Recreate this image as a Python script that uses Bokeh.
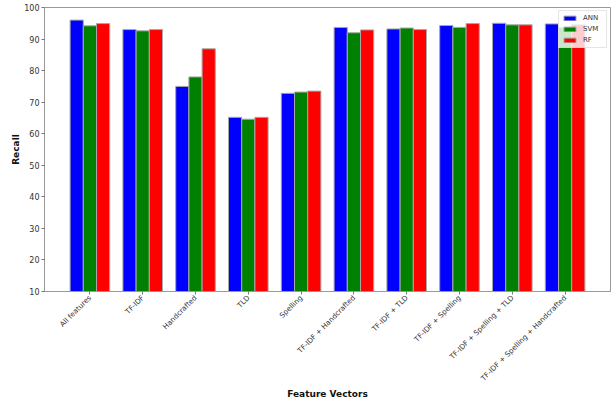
import numpy as np
from bokeh.plotting import figure
from bokeh.models import ColumnDataSource, FixedTicker, Range1d, Legend, LegendItem
from bokeh.transform import dodge
from bokeh.embed import file_html
from bokeh.resources import INLINE

categories = ["All features", "TF-IDF", "Handcrafted", "TLD", "Spelling",
              "TF-IDF + Handcrafted", "TF-IDF + TLD", "TF-IDF + Spelling",
              "TF-IDF + Spelling + TLD", "TF-IDF + Spelling + Handcrafted"]
ann = [96.0, 93.0, 75.0, 65.2, 72.8, 93.7, 93.2, 94.3, 95.0, 94.8]
svm = [94.2, 92.6, 78.0, 64.6, 73.2, 92.0, 93.5, 93.7, 94.5, 93.7]
rf = [94.9, 93.0, 86.9, 65.2, 73.5, 92.9, 93.0, 94.9, 94.5, 94.5]
series = ["ANN", "SVM", "RF"]
colors = ["blue", "green", "red"]
y_ticks = [10, 20, 30, 40, 50, 60, 70, 80, 90, 100]

FONT = "DejaVu Sans"
pos = list(range(len(categories)))
src = ColumnDataSource(dict(x=pos, ANN=ann, SVM=svm, RF=rf))

p = figure(width=611, height=401, output_backend="svg", toolbar_location=None,
           x_range=Range1d(-0.86, 9.86), y_range=Range1d(10, 100),
           min_border_left=44, min_border_right=1, min_border_top=7,
           min_border_bottom=108)

items = []
offsets = [-0.25, 0.0, 0.25]
for name, col, off in zip(series, colors, offsets):
    r = p.vbar(x=dodge("x", off), top=name, bottom=0, width=0.25, source=src,
               fill_color=col, line_color="#a8a8a8", line_width=1)
    items.append(LegendItem(label=name, renderers=[r]))

legend = Legend(items=items, location="top_right")
legend.label_text_font = FONT
legend.label_text_font_size = "7px"
legend.label_text_color = "#333333"
legend.glyph_width = 15
legend.glyph_height = 6
legend.label_height = 8
legend.spacing = 3
legend.padding = 3
legend.margin = 3
legend.label_standoff = 6
legend.border_line_color = "#cccccc"
legend.background_fill_alpha = 0.8
p.add_layout(legend)

p.xgrid.visible = False
p.ygrid.visible = False
p.outline_line_color = "#999999"
p.outline_line_width = 1

p.xaxis.ticker = FixedTicker(ticks=pos)
p.xaxis.major_label_overrides = {i: c for i, c in zip(pos, categories)}
p.xaxis.major_label_orientation = np.pi / 4
p.yaxis.ticker = FixedTicker(ticks=y_ticks)

for ax in (p.xaxis, p.yaxis):
    ax.axis_line_color = "#999999"
    ax.major_tick_line_color = "#777777"
    ax.major_tick_out = 3
    ax.major_tick_in = 0
    ax.minor_tick_line_color = None
    ax.major_label_text_font = FONT
    ax.major_label_text_color = "#333333"
    ax.axis_label_text_font = FONT
    ax.axis_label_text_font_style = "bold"
    ax.axis_label_text_font_size = "9px"
    ax.axis_label_text_color = "#111111"
    ax.major_label_standoff = 2

p.xaxis.major_label_text_font_size = "7.2px"
p.yaxis.major_label_text_font_size = "8px"
p.xaxis.axis_label = "Feature Vectors"
p.yaxis.axis_label = "Recall"
p.xaxis.axis_label_standoff = 0
p.yaxis.axis_label_standoff = 0

open("out.html", "w").write(file_html(p, INLINE))
